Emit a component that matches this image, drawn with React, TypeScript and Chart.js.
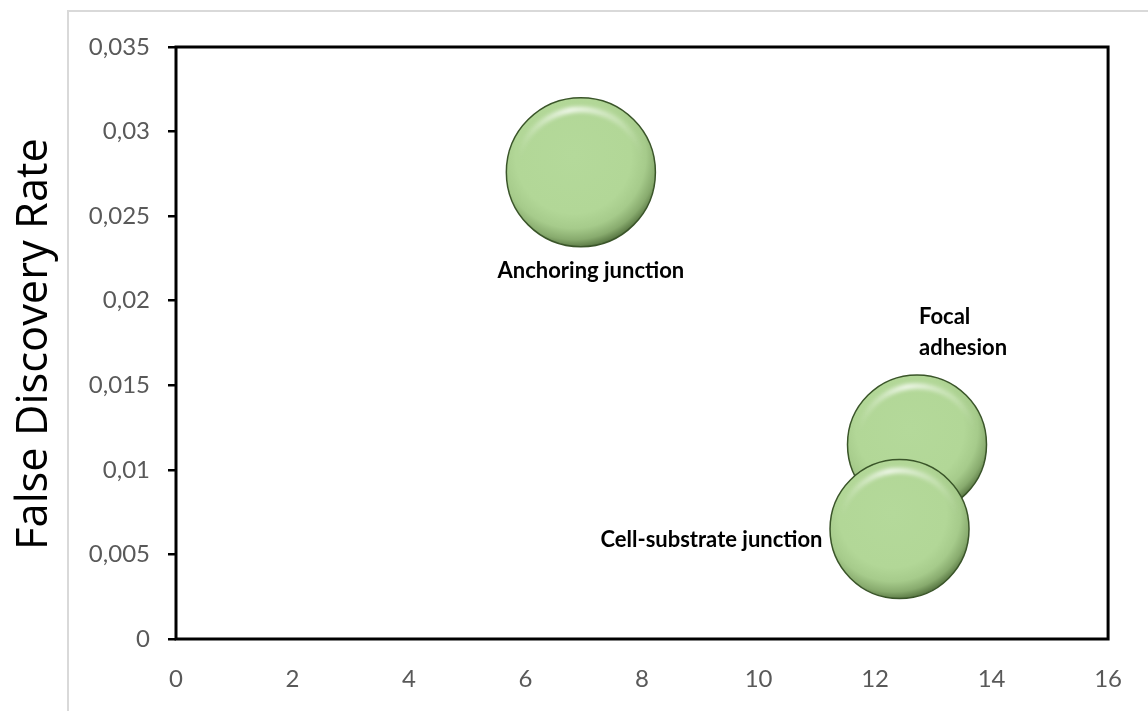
import React, { useEffect, useRef } from "react";
import { Chart, registerables } from "chart.js";

Chart.register(...registerables);

// ---------- data ----------
const categories = ["Anchoring junction", "Focal adhesion", "Cell-substrate junction"];
const labelLines = [["Anchoring junction"], ["Focal", "adhesion"], ["Cell-substrate junction"]];
const foldEnrichment = [6.95, 12.72, 12.42];
const falseDiscoveryRate = [0.0276, 0.0115, 0.0065];
const geneCounts = [23, 20, 20];
const xTickValues = [0, 2, 4, 6, 8, 10, 12, 14, 16];
const xTickLabels = ["0", "2", "4", "6", "8", "10", "12", "14", "16"];
const yTickValues = [0, 0.005, 0.01, 0.015, 0.02, 0.025, 0.03, 0.035];
const yTickLabels = ["0", "0,005", "0,01", "0,015", "0,02", "0,025", "0,03", "0,035"];
const yAxisTitle = "False Discovery Rate";

// ---------- style ----------
const W = 1148;
const H = 711;
const BUBBLE_SCALE = 15.54; // px per sqrt(count)
const FILL = "#b3d898";
const EDGE = "#3a5529";
const TICK_FONT = { family: "Lato", size: 24 };
const TICK_COLOR = "#595959";
const LABEL_FONT = "700 22px Lato";
const TITLE_FONT_SIZE = 40;
const TITLE_LENGTH = 412;
const labelPlacement = [
  { align: "center", dx: 10, dy: 106, gap: 0 },
  { align: "left", dx: 2, dy: -120, gap: 31 },
  { align: "right", dx: -77, dy: 18, gap: 0 },
];

function bubbleFill(c: any) {
  if (c.type !== "data" || !c.raw) return FILL;
  const chart = c.chart;
  const xs = chart.scales && chart.scales.x;
  const ys = chart.scales && chart.scales.y;
  if (!xs || !ys) return FILL;
  const cx = xs.getPixelForValue(c.raw.x);
  const cy = ys.getPixelForValue(c.raw.y);
  const r = c.raw.r;
  if (!Number.isFinite(cx) || !Number.isFinite(cy) || !Number.isFinite(r)) return FILL;
  const gx = cx - 0.1 * r;
  const gy = cy - 0.22 * r;
  const g = chart.ctx.createRadialGradient(gx, gy, 0, gx, gy, 1.25 * r);
  g.addColorStop(0, "#b4d99a");
  g.addColorStop(0.62, "#b2d797");
  g.addColorStop(0.78, "#a6cb8b");
  g.addColorStop(0.9, "#88ab6e");
  g.addColorStop(1, "#52703d");
  return g;
}

const decorPlugin = {
  id: "decor",
  beforeDraw(chart: any) {
    const ctx = chart.ctx;
    ctx.save();
    ctx.fillStyle = "#ffffff";
    ctx.fillRect(0, 0, chart.width, chart.height);
    ctx.strokeStyle = "#d9d9d9";
    ctx.lineWidth = 2;
    ctx.beginPath();
    ctx.moveTo(68, chart.height);
    ctx.lineTo(68, 11);
    ctx.lineTo(chart.width, 11);
    ctx.stroke();
    ctx.restore();
  },
  beforeDatasetsDraw(chart: any) {
    const { ctx, chartArea } = chart;
    ctx.save();
    ctx.strokeStyle = "#000000";
    ctx.lineWidth = 3;
    ctx.strokeRect(chartArea.left, chartArea.top, chartArea.right - chartArea.left, chartArea.bottom - chartArea.top);
    ctx.restore();
  },
  afterDatasetDraw(chart: any, args: any) {
    const ctx = chart.ctx;
    const meta = args.meta;
    meta.data.forEach((el: any) => {
      const x = el.x;
      const y = el.y;
      const r = el.options && el.options.radius;
      if (!Number.isFinite(x) || !Number.isFinite(y) || !Number.isFinite(r)) return;
      ctx.save();
      ctx.beginPath();
      ctx.arc(x, y, r - 1, 0, Math.PI * 2);
      ctx.clip();
      const lg = ctx.createLinearGradient(x - r, 0, x + r, 0);
      lg.addColorStop(0.08, "rgba(255,255,255,0)");
      lg.addColorStop(0.42, "rgba(255,255,255,0.9)");
      lg.addColorStop(0.92, "rgba(255,255,255,0)");
      ctx.filter = "blur(2px)";
      ctx.strokeStyle = lg;
      ctx.lineWidth = r * 0.07;
      ctx.beginPath();
      ctx.arc(x, y + 0.03 * r, r * 0.87, Math.PI * 1.08, Math.PI * 1.92);
      ctx.stroke();
      ctx.restore();
    });
  },
  afterDraw(chart: any) {
    const { ctx, chartArea } = chart;
    ctx.save();
    ctx.fillStyle = "#000000";
    ctx.font = LABEL_FONT;
    ctx.textBaseline = "alphabetic";
    chart.data.datasets.forEach((_ds: any, i: number) => {
      const el = chart.getDatasetMeta(i).data[0];
      if (!el) return;
      const p = labelPlacement[i];
      ctx.textAlign = p.align;
      labelLines[i].forEach((line: string, k: number) => {
        ctx.fillText(line, el.x + p.dx, el.y + p.dy + k * p.gap);
      });
    });
    ctx.restore();
    // y-axis title, sized so it spans the same length as in the reference
    ctx.save();
    ctx.fillStyle = "#000000";
    ctx.font = `400 ${TITLE_FONT_SIZE}px "Open Sans"`;
    const natural = ctx.measureText(yAxisTitle).width;
    const size = Math.max(20, Math.min(48, (TITLE_FONT_SIZE * TITLE_LENGTH) / natural));
    ctx.font = `400 ${size}px "Open Sans"`;
    ctx.textAlign = "center";
    ctx.textBaseline = "alphabetic";
    ctx.translate(47, (chartArea.top + chartArea.bottom) / 2 + 1);
    ctx.rotate(-Math.PI / 2);
    ctx.fillText(yAxisTitle, 0, 0);
    ctx.restore();
  },
};

export default function App() {
  const ref = useRef<HTMLCanvasElement | null>(null);
  useEffect(() => {
    document.body.style.margin = "0";
    const canvas = ref.current;
    if (!canvas) return;
    const datasets = categories.map((name, i) => ({
      label: name,
      data: [{ x: foldEnrichment[i], y: falseDiscoveryRate[i], r: BUBBLE_SCALE * Math.sqrt(geneCounts[i]) }],
      order: categories.length - 1 - i,
      backgroundColor: bubbleFill,
      borderColor: EDGE,
      borderWidth: 1.5,
      hoverRadius: 0,
      clip: false as any,
    }));
    const chart = new Chart(canvas, {
      type: "bubble",
      data: { datasets },
      plugins: [decorPlugin],
      options: {
        animation: false,
        responsive: true,
        maintainAspectRatio: false,
        events: [],
        layout: { autoPadding: false, padding: { top: 47, right: 35, left: 0, bottom: 0 } },
        plugins: { legend: { display: false }, tooltip: { enabled: false } },
        scales: {
          x: {
            type: "linear",
            min: 0,
            max: 16,
            afterBuildTicks: (s: any) => {
              s.ticks = xTickValues.map((v) => ({ value: v }));
            },
            afterFit: (s: any) => {
              s.height = 72;
            },
            grid: { display: false, drawTicks: false },
            border: { display: false },
            ticks: {
              padding: 26,
              color: TICK_COLOR,
              font: TICK_FONT,
              maxRotation: 0,
              autoSkip: false,
              callback: (_v: any, i: number) => xTickLabels[i],
            },
          },
          y: {
            type: "linear",
            min: 0,
            max: 0.035,
            afterBuildTicks: (s: any) => {
              s.ticks = yTickValues.map((v) => ({ value: v }));
            },
            afterFit: (s: any) => {
              s.width = 176;
            },
            grid: { display: true, drawOnChartArea: false, drawTicks: true, tickLength: 8, color: "#000000", lineWidth: 2.5 },
            border: { display: false },
            ticks: {
              padding: 18,
              color: TICK_COLOR,
              font: TICK_FONT,
              autoSkip: false,
              callback: (_v: any, i: number) => yTickLabels[i],
            },
          },
        },
      } as any,
    });
    return () => chart.destroy();
  }, []);
  return (
    <div style={{ width: W, height: H, position: "relative" }}>
      <canvas ref={ref} />
    </div>
  );
}
